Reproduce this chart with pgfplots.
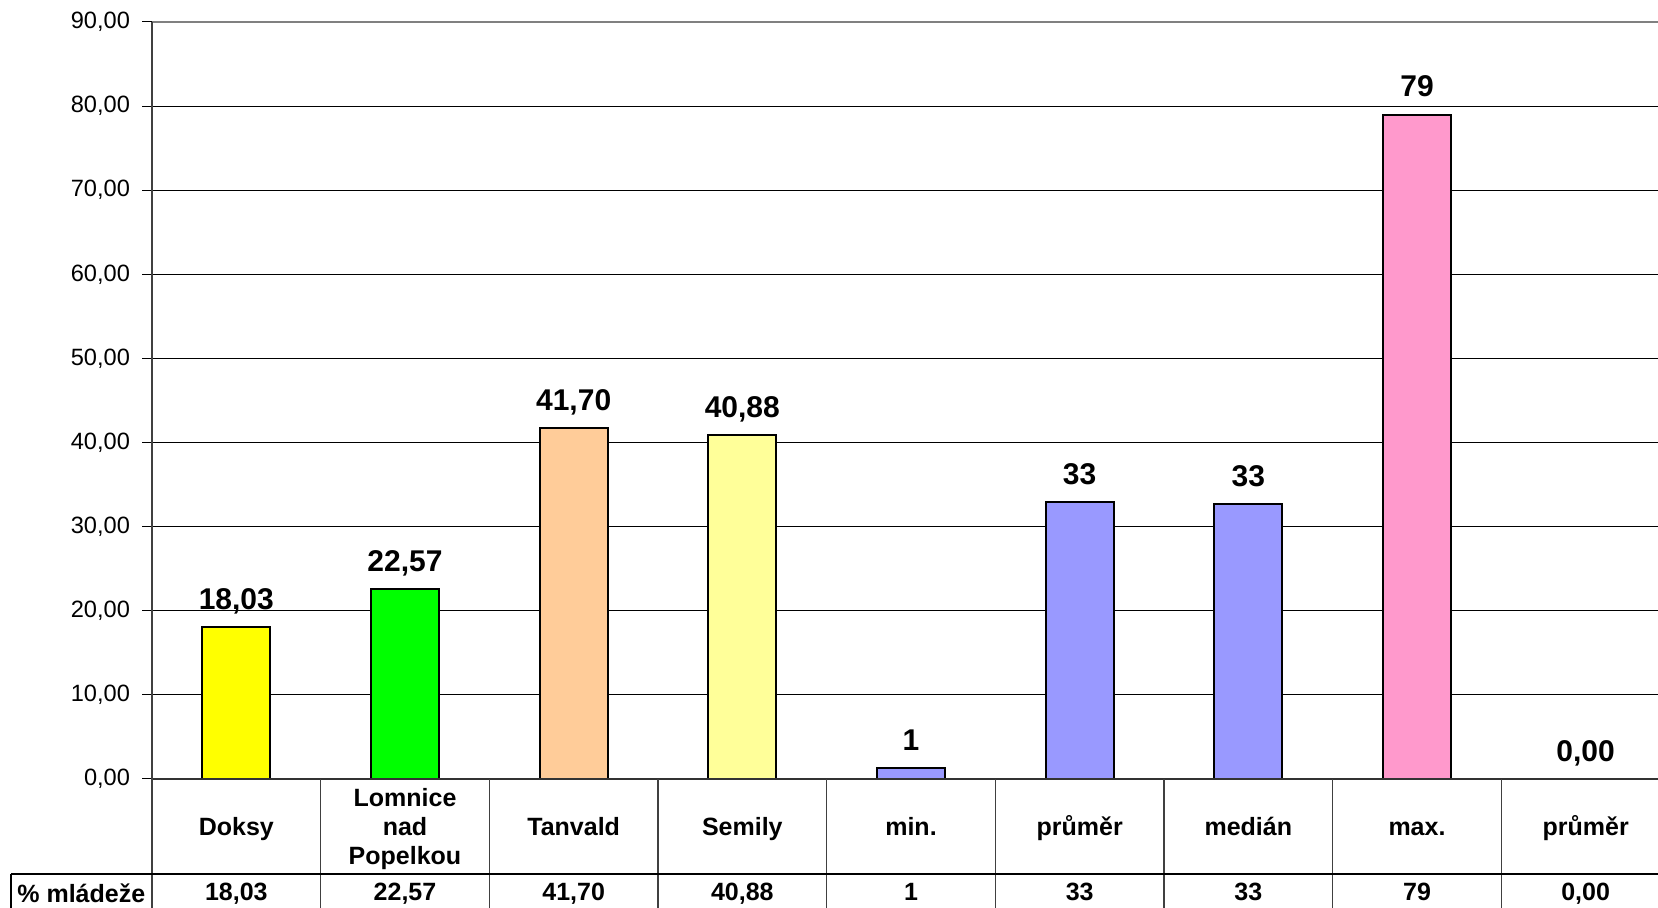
\documentclass[border=0pt]{standalone}
\usepackage{pgfplots}
\pgfplotsset{compat=1.18}
\usepackage{fontspec}
\setmainfont{Liberation Sans}
\definecolor{cA}{HTML}{FFFF00}
\definecolor{cB}{HTML}{00FF00}
\definecolor{cC}{HTML}{FFCC99}
\definecolor{cD}{HTML}{FFFF99}
\definecolor{cE}{HTML}{9999FF}
\definecolor{cF}{HTML}{FF99CC}
\definecolor{axgray}{HTML}{808080}
\begin{document}
\begin{tikzpicture}
\path[use as bounding box] (-76pt,-64.5pt) rectangle (753pt,389.5pt);
\begin{axis}[
  at={(0pt,0pt)}, anchor=south west,
  scale only axis, width=759pt, height=378.5pt,
  xmin=-0.5, xmax=8.5, ymin=0, ymax=90,
  clip=false,
  ybar, bar width=34pt, bar shift=0pt,
  axis line style={draw=none},
  ytick={0,10,...,90},
  ymajorgrids, grid style={black, line width=0.5pt},
  major tick length=5pt, tick align=outside,
  ytick style={black, line width=0.5pt},
  xtick style={draw=none},
  yticklabel style={font=\fontsize{11.8}{14}\selectfont, xshift=-2.5pt},
  /pgf/number format/.cd, fixed, fixed zerofill, precision=2, use comma, assume math mode=true,
  /pgfplots/.cd,
  xtick={0,...,8},
  xticklabels={{\strut Doksy},{\strut Lomnice\\nad\\Popelkou\strut},{\strut Tanvald},{\strut Semily},{\strut min.},{\strut průměr},{\strut medián},{\strut max.},{\strut průměr}},
  xticklabel style={font=\bfseries\fontsize{12.5}{14.5}\selectfont, align=center, anchor=center, yshift=-20.3pt},
  extra x ticks={0,...,8},
  extra x tick labels={{\strut 18,03},{\strut 22,57},{\strut 41,70},{\strut 40,88},{\strut 1},{\strut 33},{\strut 33},{\strut 79},{\strut 0,00}},
  extra x tick style={grid=none, xticklabel style={yshift=-32.7pt}},
  point meta=explicit symbolic,
  nodes near coords,
  nodes near coords style={font=\bfseries\fontsize{15}{18}\selectfont, anchor=base, yshift=8.9pt},
  every axis plot/.append style={draw=black, line width=1pt},
]
\addplot[fill=cA] coordinates {(0,18.03) [{18,03}]};
\addplot[fill=cB] coordinates {(1,22.57) [{22,57}]};
\addplot[fill=cC] coordinates {(2,41.70) [{41,70}]};
\addplot[fill=cD] coordinates {(3,40.88) [{40,88}]};
\addplot[fill=cE] coordinates {(4,1.25) [1]};
\addplot[fill=cE] coordinates {(5,32.9) [33]};
\addplot[fill=cE] coordinates {(6,32.7) [33]};
\addplot[fill=cF] coordinates {(7,79.0) [79]};
\addplot[draw=none, fill=none] coordinates {(8,0) [{0,00}]};
% frame and data table lines
\draw[axgray, line width=1.1pt] (axis cs:-0.5,90) -- (axis cs:8.5,90);
\draw[black!80, line width=0.6pt] (axis cs:-0.5,0) -- (axis cs:8.5,0);
\draw[black!75, line width=1pt] (axis cs:-0.5,90) -- (axis cs:-0.5,0) -- ([yshift=-70pt]axis cs:-0.5,0);
\draw[black!75, line width=0.6pt] (axis cs:0.5,0) -- ([yshift=-70pt]axis cs:0.5,0);
\draw[black!75, line width=0.6pt] (axis cs:1.5,0) -- ([yshift=-70pt]axis cs:1.5,0);
\draw[black!75, line width=0.6pt] (axis cs:2.5,0) -- ([yshift=-70pt]axis cs:2.5,0);
\draw[black!75, line width=0.6pt] (axis cs:3.5,0) -- ([yshift=-70pt]axis cs:3.5,0);
\draw[black!75, line width=0.6pt] (axis cs:4.5,0) -- ([yshift=-70pt]axis cs:4.5,0);
\draw[black!75, line width=0.6pt] (axis cs:5.5,0) -- ([yshift=-70pt]axis cs:5.5,0);
\draw[black!75, line width=0.6pt] (axis cs:6.5,0) -- ([yshift=-70pt]axis cs:6.5,0);
\draw[black!75, line width=0.6pt] (axis cs:7.5,0) -- ([yshift=-70pt]axis cs:7.5,0);
\draw[black, line width=0.6pt] ([xshift=-70.5pt,yshift=-47.5pt]axis cs:-0.5,0) -- ([yshift=-47.5pt]axis cs:8.5,0);
\draw[black, line width=0.6pt] ([xshift=-70.5pt,yshift=-47.5pt]axis cs:-0.5,0) -- ([xshift=-70.5pt,yshift=-75pt]axis cs:-0.5,0);
\node[anchor=west, font=\bfseries\fontsize{12.5}{14.5}\selectfont, inner sep=0pt] at ([xshift=-67.5pt,yshift=-57pt]axis cs:-0.5,0) {\% mládeže};
\end{axis}
\end{tikzpicture}
\end{document}
